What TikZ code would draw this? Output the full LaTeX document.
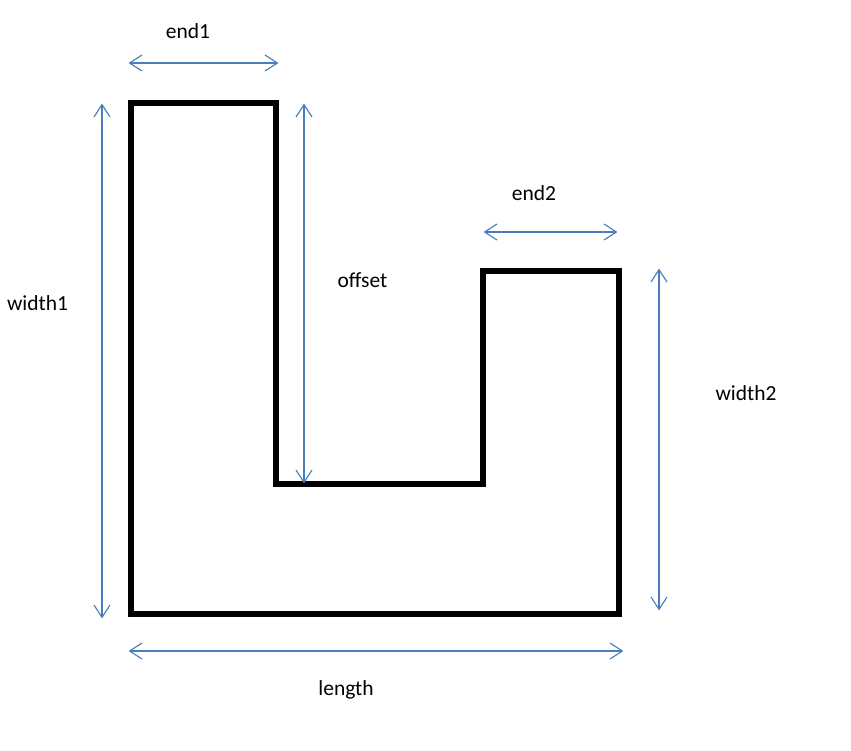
\documentclass[tikz,border=0pt]{standalone}
\usepackage{fontspec}
\setmainfont{Carlito}
\usetikzlibrary{arrows.meta}
\definecolor{dimblue}{HTML}{4A7EBB}
\pgfdeclarearrow{
  name=OpenVee,
  defaults={length=13pt,width=16pt},
  setup code={
    \pgfarrowssettipend{0pt}
    \pgfarrowssetlineend{-0.6pt}
    \pgfarrowssetvisualbackend{-\pgfarrowlength}
    \pgfarrowssetbackend{-\pgfarrowlength}
    \pgfarrowssavethe\pgfarrowlength
    \pgfarrowssavethe\pgfarrowwidth
  },
  drawing code={
    \pgfsetdash{}{0pt}
    \pgfsetlinewidth{1.15pt}
    \pgfsetroundjoin
    \pgfpathmoveto{\pgfqpoint{-\pgfarrowlength}{0.5\pgfarrowwidth}}
    \pgfpathlineto{\pgfqpoint{-0.6pt}{0pt}}
    \pgfpathlineto{\pgfqpoint{-\pgfarrowlength}{-0.5\pgfarrowwidth}}
    \pgfusepathqstroke
  },
  parameters={\the\pgfarrowlength,\the\pgfarrowwidth},
}
\tikzset{
  dimline/.style={draw=dimblue,line width=1.15pt,{OpenVee[length=13pt,width=16pt]}-{OpenVee[length=13pt,width=16pt]}},
  shapeline/.style={draw=black,line width=6pt,miter limit=10},
  lab/.style={font=\fontsize{21.5}{25}\selectfont,text=black,inner sep=0pt}
}
\begin{document}
\begin{tikzpicture}[x=1pt,y=-1pt]
\useasboundingbox (0,0) rectangle (851,750);
\draw[shapeline] (130.5,103) -- (275.5,103) -- (275.5,484) -- (483,484) -- (483,271) -- (618.5,271) -- (618.5,614) -- (130.5,614) -- cycle;
\coordinate (e1a) at (129,63); \coordinate (e1b) at (278,63);
\coordinate (e2a) at (484,232); \coordinate (e2b) at (617,232);
\coordinate (w1a) at (102,104); \coordinate (w1b) at (102,618);
\coordinate (oa) at (304,104); \coordinate (ob) at (304,483);
\coordinate (w2a) at (659,269); \coordinate (w2b) at (659,610);
\coordinate (la) at (129,651); \coordinate (lb) at (623,651);
\draw[dimline] (e1a) -- (e1b);
\draw[dimline] (e2a) -- (e2b);
\draw[dimline] (w1a) -- (w1b);
\draw[dimline] (oa) -- (ob);
\draw[dimline] (w2a) -- (w2b);
\draw[dimline] (la) -- (lb);
\node[lab] (t1) at (188,31) {end1};
\node[lab] (t2) at (534,193) {end2};
\node[lab] (t3) at (37.5,303) {width1};
\node[lab] (t4) at (362.5,280) {offset};
\node[lab] (t5) at (746,393) {width2};
\node[lab] (t6) at (346,690) {length};
\end{tikzpicture}
\end{document}
